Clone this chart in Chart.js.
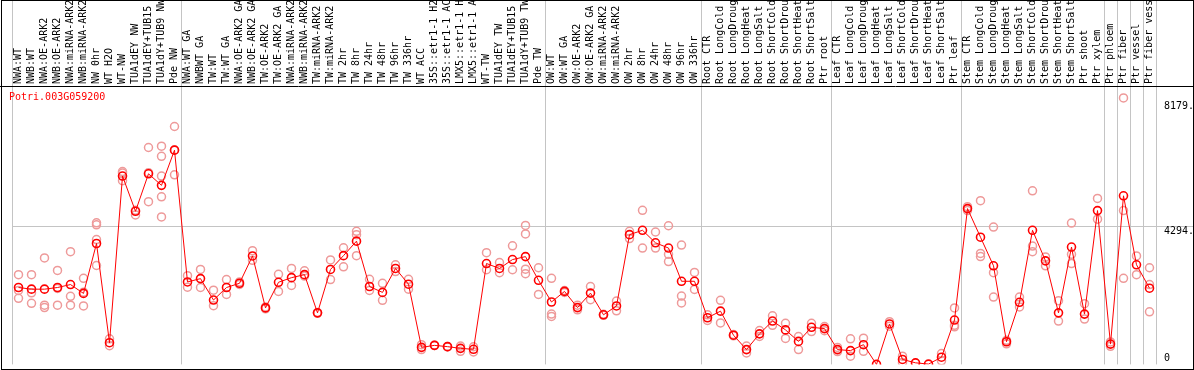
<!DOCTYPE html>
<html>
<head>
<meta charset="utf-8">
<script src="https://cdn.jsdelivr.net/npm/chart.js@4.4.1/dist/chart.umd.min.js"></script>
<style>
  html, body { margin: 0; padding: 0; background: #fff; }
  #geneChart { display: block; }
</style>
</head>
<body>
<canvas id="geneChart" width="1194" height="370"></canvas>
<script>
const geneName = 'Potri.003G059200';

const categories = [
  'NWA:WT', 'NWB:WT', 'NWA:OE-ARK2', 'NWB:OE-ARK2', 'NWA:miRNA-ARK2', 'NWB:miRNA-ARK2',
  'NW 0hr', 'WT H2O', 'WT-NW', 'TUA1dEY NW', 'TUA1dEY+TUB15', 'TUA1dY+TUB9 NW', 'Pde NW',
  'NWA:WT GA', 'NWBWT GA', 'TW:WT', 'TW:WT GA', 'NWA:OE-ARK2 GA', 'NWB:OE-ARK2 GA',
  'TW:OE-ARK2', 'TW:OE-ARK2 GA', 'NWA:miRNA-ARK2', 'NWB:miRNA-ARK2', 'TW:miRNA-ARK2',
  'TW:miRNA-ARK2', 'TW 2hr', 'TW 8hr', 'TW 24hr', 'TW 48hr', 'TW 96hr', 'TW 336hr',
  'WT ACC', '35S::etr1-1 H2', '35S::etr1-1 AC', 'LMX5::etr1-1 H', 'LMX5::etr1-1 A',
  'WT-TW', 'TUA1dEY TW', 'TUA1dEY+TUB15', 'TUA1dY+TUB9 TW', 'Pde TW',
  'OW:WT', 'OW:WT GA', 'OW:OE-ARK2', 'OW:OE-ARK2 GA', 'OW:miRNA-ARK2', 'OW:miRNA-ARK2',
  'OW 2hr', 'OW 8hr', 'OW 24hr', 'OW 48hr', 'OW 96hr', 'OW 336hr',
  'Root CTR', 'Root LongCold', 'Root LongDroug', 'Root LongHeat', 'Root LongSalt',
  'Root ShortCold', 'Root ShortDrou', 'Root ShortHeat', 'Root ShortSalt', 'Ptr root',
  'Leaf CTR', 'Leaf LongCold', 'Leaf LongDroug', 'Leaf LongHeat', 'Leaf LongSalt',
  'Leaf ShortCold', 'Leaf ShortDrou', 'Leaf ShortHeat', 'Leaf ShortSalt', 'Ptr leaf',
  'Stem CTR', 'Stem LongCold', 'Stem LongDroug', 'Stem LongHeat', 'Stem LongSalt',
  'Stem ShortCold', 'Stem ShortDrou', 'Stem ShortHeat', 'Stem ShortSalt', 'Ptr shoot',
  'Ptr xylem', 'Ptr phloem', 'Ptr fiber', 'Ptr vessel', 'Ptr fiber vess'
];

// mean expression per sample (red line)
const means = [
  2395, 2343, 2343, 2395, 2487, 2211, 3765, 676, 5866, 4769, 5936, 5577, 6673,
  2568, 2672, 2005, 2395, 2527, 3378, 1760, 2558, 2702, 2795, 1606, 2957, 3387, 3839,
  2426, 2242, 2988, 2497, 531, 593, 553, 500, 470, 3142, 2988, 3265, 3357, 2620,
  1944, 2273, 1769, 2220, 1545, 1821, 4041, 4177, 3787, 3624, 2589, 2589,
  1453, 1658, 909, 461, 952, 1351, 1075, 716, 1155, 1115,
  461, 430, 614, 0, 1259, 154, 49, 10, 224, 1382,
  4852, 3961, 3071, 706, 1935, 4177, 3225, 1606, 3655, 1566, 4791,
  633, 5251, 3102, 2374
];

// individual replicates per sample (pale circles)
const replicates = [
  [2795, 2303, 2058], [2795, 2230, 1904], [3317, 1843, 1769], [2927, 2365, 1843],
  [3510, 2119, 1843], [2681, 2251, 1821], [4410, 4349, 3888, 3080], [798, 583],
  [6007, 5960, 5721], [4800, 4656], [6756, 5067, 5970], [6796, 6480, 5866, 5221, 4594],
  [7410, 5906, 6680],
  [2764, 2405], [2957, 2395], [2312, 1830], [2641, 2180], [2570, 2490], [3541, 3243],
  [1790, 1730], [2804, 2273], [2988, 2457], [2917, 2750], [1620, 1590], [3255, 2641],
  [3633, 3040], [4146, 4041, 3387], [2650, 2303], [2527, 1996], [3102, 2890], [2650, 2343],
  [614, 461], [600, 585], [560, 545], [571, 408], [550, 387], [3479, 2948], [3172, 2856],
  [3694, 2948], [4330, 4063, 2967, 2825], [3010, 2180],
  [2681, 1566, 1493], [2300, 2240], [1843, 1700], [2426, 2015], [1560, 1530], [1975, 1668],
  [4146, 3919], [4800, 3624], [4124, 3624], [4318, 3427, 3203], [3716, 2128, 1913], [2865, 2334],
  [1545, 1370], [1996, 1290], [930, 890], [571, 356], [1053, 870], [1514, 1216], [1278, 808],
  [869, 461], [1280, 1023], [1180, 1050],
  [530, 400], [798, 255], [817, 408], [], [1330, 1190], [255, 60], [], [], [338, 110],
  [1760, 1216, 1170],
  [4914, 4790], [5098, 3458, 3357], [4278, 2856, 2097], [750, 640], [2097, 1790],
  [5405, 3685, 3510], [3347, 3071], [1984, 1351], [4401, 3427, 3142], [1892, 1413], [5169, 4524],
  [562, 700], [8301, 4791, 2681], [3378, 2795], [3010, 2487, 1637]
];

const yTicks = [0, 4294, 8179];
const yTickLabels = ['0', '4294.', '8179.'];
// sample index where each tissue / experiment block starts (grey separators)
const groupStarts = [0, 13, 41, 53, 63, 73, 84, 85, 86, 87, 88];

const monoFamily = '"DejaVu Sans Mono", "Liberation Mono", monospace';
const paleRed = '#ee9a9a';

// one point-only dataset per replicate slot
const maxReps = Math.max(...replicates.map(r => r.length));
const repDatasets = [];
for (let k = 0; k < maxReps; k++) {
  repDatasets.push({
    data: replicates.map(r => (r[k] === undefined ? null : r[k])),
    showLine: false,
    pointStyle: 'circle',
    pointRadius: 4,
    pointBorderWidth: 1.5,
    pointBorderColor: paleRed,
    pointBackgroundColor: 'rgba(0,0,0,0)',
    borderColor: paleRed
  });
}

// frame, gene name and the right hand value labels
const framePlugin = {
  id: 'frame',
  afterDraw(chart) {
    const ctx = chart.ctx;
    const area = chart.chartArea;
    const yScale = chart.scales.y;
    ctx.save();
    ctx.strokeStyle = '#000';
    ctx.lineWidth = 1;
    ctx.strokeRect(1.5, 0.5, chart.width - 2, chart.height - 1);
    ctx.beginPath();
    ctx.moveTo(0, 86.5);
    ctx.lineTo(chart.width, 86.5);
    ctx.stroke();

    ctx.font = '10px ' + monoFamily;
    ctx.fillStyle = '#ff0000';
    ctx.textBaseline = 'top';
    ctx.fillText(geneName, area.left - 3, area.top + 5);

    ctx.fillStyle = '#000';
    yTicks.forEach((v, i) => {
      const py = yScale.getPixelForValue(v);
      if (v === 0) {
        ctx.textBaseline = 'alphabetic';
        ctx.fillText(yTickLabels[i], area.right + 8, py - 3);
      } else {
        ctx.textBaseline = 'top';
        ctx.fillText(yTickLabels[i], area.right + 8, py);
      }
    });
    ctx.restore();
  }
};

const ctx1 = document.getElementById('geneChart').getContext('2d');
const chart1 = new Chart(ctx1, {
  type: 'line',
  data: {
    labels: categories,
    datasets: [{
      data: means,
      borderColor: '#ff0000',
      borderWidth: 1,
      pointStyle: 'circle',
      pointRadius: 4,
      pointBorderWidth: 1.6,
      pointBorderColor: '#ff0000',
      pointBackgroundColor: 'rgba(0,0,0,0)',
      tension: 0
    }].concat(repDatasets)
  },
  options: {
    responsive: false,
    animation: false,
    events: [],
    devicePixelRatio: 1,
    layout: { padding: { left: 12, top: 0, right: 0, bottom: 2 } },
    plugins: {
      legend: { display: false },
      tooltip: { enabled: false }
    },
    scales: {
      x: {
        type: 'category',
        position: 'top',
        offset: true,
        grid: {
          offset: true,
          drawTicks: true,
          tickLength: 86,
          lineWidth: 1,
          color: c => (c.index === undefined || groupStarts.includes(c.index)) ? '#c4c4c4' : 'rgba(0,0,0,0)'
        },
        border: { display: false },
        ticks: {
          autoSkip: false,
          minRotation: 90,
          maxRotation: 90,
          padding: -83,
          labelOffset: 12,
          color: '#000',
          font: { family: monoFamily, size: 10 }
        },
        afterFit: s => { s.height = 87; }
      },
      y: {
        position: 'right',
        min: 0,
        max: 8640,
        afterBuildTicks: s => { s.ticks = yTicks.map(v => ({ value: v })); },
        grid: {
          drawTicks: true,
          tickLength: 37,
          color: c => (c.tick && c.tick.value === 4294) ? '#c4c4c4' : 'rgba(0,0,0,0)'
        },
        border: { display: false },
        ticks: { display: false },
        afterFit: s => { s.width = 38; }
      }
    }
  },
  plugins: [framePlugin]
});
</script>
</body>
</html>
